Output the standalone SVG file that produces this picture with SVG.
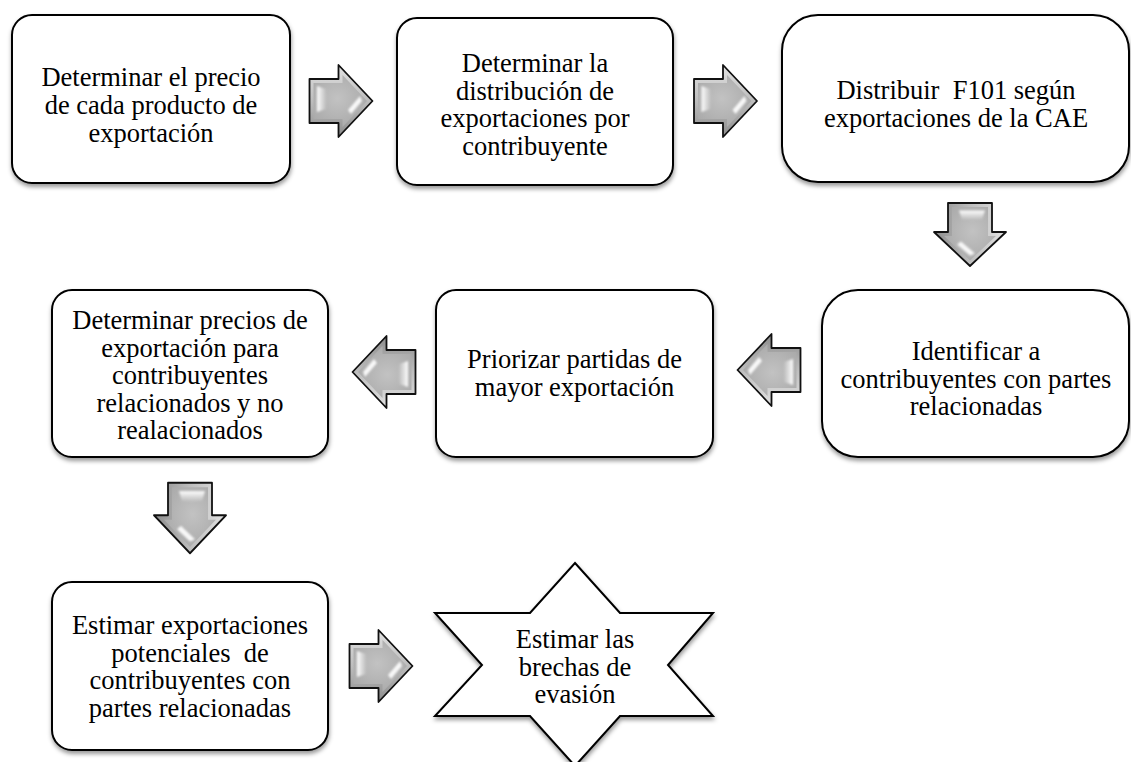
<svg xmlns="http://www.w3.org/2000/svg" width="1131" height="762" viewBox="0 0 1131 762">
  <style>
    .box { fill: #ffffff; stroke: #000000; stroke-width: 2; filter: url(#shadow); }
    .lbl { font-family: "Liberation Serif", "Times New Roman", serif; font-size: 26.5px; fill: #000000; text-anchor: middle; white-space: pre; }
  </style>
  <defs>
    <filter id="shadow" x="-10%" y="-10%" width="120%" height="130%">
      <feDropShadow dx="0.5" dy="3" stdDeviation="2" flood-color="#000000" flood-opacity="0.4"/>
    </filter>
    <filter id="soft" x="-50%" y="-50%" width="200%" height="200%">
      <feGaussianBlur stdDeviation="0.8"/>
    </filter>
    <linearGradient id="bevel" x1="0" y1="0" x2="0" y2="1">
      <stop offset="0" stop-color="#e2e2e2"/>
      <stop offset="0.5" stop-color="#bdbdbd"/>
      <stop offset="1" stop-color="#8c8c8c"/>
    </linearGradient>
    <radialGradient id="face" cx="0.45" cy="0.45" r="0.7">
      <stop offset="0" stop-color="#c2c2c2"/>
      <stop offset="1" stop-color="#a6a6a6"/>
    </radialGradient>
    <linearGradient id="glint" x1="0" y1="0" x2="1" y2="0">
      <stop offset="0" stop-color="#ffffff" stop-opacity="1"/>
      <stop offset="1" stop-color="#ffffff" stop-opacity="0"/>
    </linearGradient>
    <!-- block arrow pointing right, centred on the origin -->
    <g id="arrow">
      <polygon points="-31.5,-22 -2.5,-22 -2.5,-36 31.5,0 -2.5,36 -2.5,22 -31.5,22" fill="url(#bevel)" stroke="#111111" stroke-width="1.8" stroke-linejoin="round"/>
      <polygon points="-27.5,-18 1.5,-18 1.5,-25.9 26,0 1.5,25.9 1.5,18 -27.5,18" fill="url(#face)"/>
      <path d="M-24,-15 L-15,-12 Q-13.5,-2 -15,8 L-24,11 Z" fill="url(#glint)" filter="url(#soft)"/>
      <path d="M19,-5 L7,9 L10,13 L21,0 Z" fill="#ffffff" opacity="0.9" filter="url(#soft)"/>
    </g>
  </defs>

  <g id="connectors">
    <use href="#arrow" transform="translate(341,101)"/>
    <use href="#arrow" transform="translate(725.5,101)"/>
    <use href="#arrow" transform="translate(970,234.5) rotate(90)"/>
    <use href="#arrow" transform="translate(769,370) rotate(180)"/>
    <use href="#arrow" transform="translate(384,372) rotate(180)"/>
    <use href="#arrow" transform="translate(190,518) rotate(90) scale(1.12,1)"/>
    <use href="#arrow" transform="translate(381,666)"/>
  </g>

  <g id="n1">
    <rect class="box" x="12" y="15" width="278" height="168" rx="20"/>
    <text class="lbl" x="151" y="86">Determinar el precio</text>
    <text class="lbl" x="151" y="114">de cada producto de</text>
    <text class="lbl" x="151" y="142">exportación</text>
  </g>

  <g id="n2">
    <rect class="box" x="397" y="18" width="276" height="167" rx="20"/>
    <text class="lbl" x="535" y="72">Determinar la</text>
    <text class="lbl" x="535" y="99.5">distribución de</text>
    <text class="lbl" x="535" y="127">exportaciones por</text>
    <text class="lbl" x="535" y="154.5">contribuyente</text>
  </g>

  <g id="n3">
    <rect class="box" x="782" y="15" width="347" height="167" rx="36"/>
    <text class="lbl" x="956" y="99">Distribuir  F101 según</text>
    <text class="lbl" x="956" y="127">exportaciones de la CAE</text>
  </g>

  <g id="n4">
    <rect class="box" x="822" y="290" width="307" height="167" rx="36"/>
    <text class="lbl" x="976" y="360">Identificar a</text>
    <text class="lbl" x="976" y="387.5">contribuyentes con partes</text>
    <text class="lbl" x="976" y="415">relacionadas</text>
  </g>

  <g id="n5">
    <rect class="box" x="436" y="290" width="277" height="167" rx="20"/>
    <text class="lbl" x="574.5" y="368">Priorizar partidas de</text>
    <text class="lbl" x="574.5" y="395.5">mayor exportación</text>
  </g>

  <g id="n6">
    <rect class="box" x="52" y="290" width="276" height="167" rx="20"/>
    <text class="lbl" x="190" y="329">Determinar precios de</text>
    <text class="lbl" x="190" y="356.5">exportación para</text>
    <text class="lbl" x="190" y="384">contribuyentes</text>
    <text class="lbl" x="190" y="411.5">relacionados y no</text>
    <text class="lbl" x="190" y="439">realacionados</text>
  </g>

  <g id="n7">
    <rect class="box" x="52" y="582" width="276" height="168" rx="20"/>
    <text class="lbl" x="190" y="634">Estimar exportaciones</text>
    <text class="lbl" x="190" y="661.5">potenciales  de</text>
    <text class="lbl" x="190" y="689">contribuyentes con</text>
    <text class="lbl" x="190" y="716.5">partes relacionadas</text>
  </g>

  <g id="n8">
    <polygon class="box" points="575,563 620,613 713,613 668,665 713,716 620,716 575,766 530,716 435,716 482,665 435,613 530,613" stroke-linejoin="miter"/>
    <text class="lbl" x="575" y="648">Estimar las</text>
    <text class="lbl" x="575" y="675.5">brechas de</text>
    <text class="lbl" x="575" y="703">evasión</text>
  </g>
</svg>
